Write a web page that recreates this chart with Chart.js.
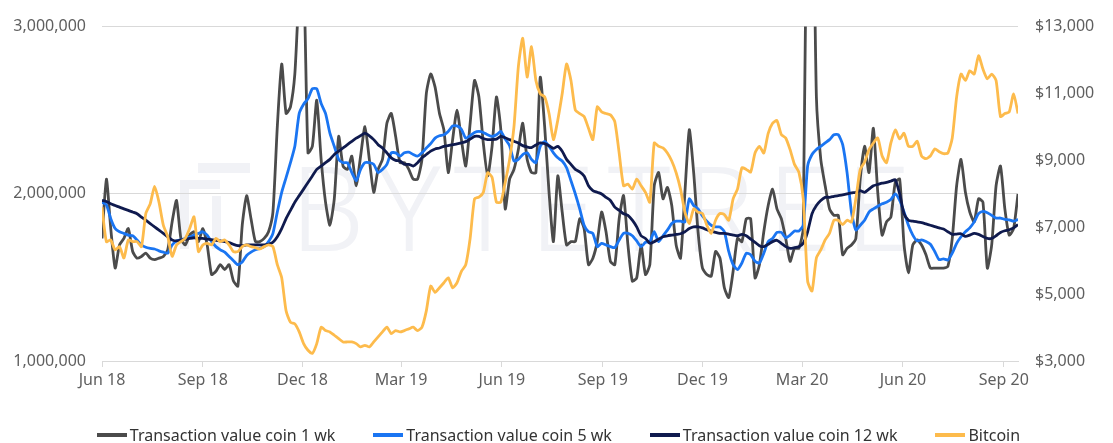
<!DOCTYPE html>
<html lang="en">
<head>
  <meta charset="UTF-8" />
  <title>Transaction value coin vs Bitcoin</title>
  <script src="https://cdn.jsdelivr.net/npm/chart.js@4"></script>
  <style>
    body {
      margin: 0;
      background: #fff;
      font-family: "Noto Sans", Arial, sans-serif;
    }
    .wrap {
      position: relative;
      width: 1113px;
      height: 443px;
    }
    #legend {
      position: absolute;
      left: 0;
      right: 0;
      top: 425px;
      height: 20px;
      display: flex;
      justify-content: center;
      gap: 38px;
      padding-left: 4px;
      font-size: 16px;
      line-height: 20px;
      color: #333;
    }
    #legend .item {
      display: flex;
      align-items: center;
      white-space: nowrap;
    }
    #legend .swatch {
      width: 30px;
      height: 4px;
      margin-right: 3px;
    }
  </style>
</head>
<body>
  <div class="wrap">
    <canvas id="chart"></canvas>
    <div id="legend"></div>
  </div>

  <script>
    // one sample every 4 days, starting Jun 2018
    const stepDays = 4;
    const tickDays = [0, 92, 183, 273, 365, 457, 548, 639, 731, 823];
    const tickLabels = ['Jun 18', 'Sep 18', 'Dec 18', 'Mar 19', 'Jun 19', 'Sep 19', 'Dec 19', 'Mar 20', 'Jun 20', 'Sep 20'];

    const coin1wk = [
      1733000, 2088000, 1792000, 1556000, 1694000, 1733000, 1792000, 1655000, 1615000, 1625000, 1645000, 1615000,
      1606000, 1615000, 1625000, 1665000, 1832000, 1960000, 1733000, 1694000, 1753000, 1773000, 1714000, 1792000,
      1694000, 1517000, 1537000, 1576000, 1547000, 1576000, 1478000, 1448000, 1812000, 1989000, 1851000, 1714000,
      1714000, 1733000, 1773000, 1891000, 2402000, 2776000, 2481000, 2520000, 2717000, 3200000, 3300000, 2245000,
      2284000, 2560000, 2206000, 1950000, 1812000, 1970000, 2343000, 2166000, 2146000, 2225000, 2048000, 2225000,
      2402000, 2206000, 2009000, 2146000, 2206000, 2422000, 2481000, 2343000, 2186000, 2186000,
      2146000, 2088000, 2088000, 2206000, 2599000, 2717000, 2638000, 2481000, 2383000, 2127000, 2324000, 2501000,
      2324000, 2166000, 2422000, 2678000, 2579000, 2304000, 2107000, 2284000, 2579000, 2383000, 1910000, 2088000,
      2146000, 2265000, 2422000, 2206000, 2127000, 2127000, 2697000, 2402000, 2009000, 1714000, 2107000,
      1891000, 1694000, 1714000, 1714000, 1851000, 1792000, 1576000, 1615000, 1714000, 1891000, 1773000, 1596000,
      1576000, 1851000, 1989000, 1694000, 1478000, 1497000, 1694000, 1517000, 1576000, 2048000, 2127000, 1970000,
      2038000, 1930000, 1694000, 1615000, 2009000, 2383000, 2127000, 1773000, 1556000, 1517000, 1507000, 1655000,
      1615000, 1438000, 1379000, 1537000, 1733000, 1714000, 1851000, 1851000, 1497000, 1576000, 1773000, 1930000,
      2028000, 1910000, 1851000, 1733000, 1596000, 1674000, 1674000, 1792000, 4200000, 4200000, 2579000, 2206000,
      2048000, 1910000, 1871000, 1871000, 1635000, 1674000, 1694000, 1733000, 2088000, 2284000, 2127000,
      2392000, 2009000, 1753000, 1832000, 1861000, 2068000, 2088000, 1694000, 1527000, 1694000, 1724000, 1694000,
      1635000, 1556000, 1556000, 1556000, 1556000, 1566000, 1733000, 2048000, 2206000, 2009000, 1891000, 1832000,
      1970000, 1950000, 1556000, 1694000, 2048000, 2166000, 1910000, 1753000, 1792000, 1999000
    ];

    const coin5wk = [
      1950000, 1934000, 1851000, 1792000, 1773000, 1763000, 1753000, 1749000, 1724000, 1694000, 1680000, 1674000,
      1670000, 1659000, 1651000, 1645000, 1694000, 1718000, 1724000, 1733000, 1741000, 1753000, 1763000, 1773000,
      1753000, 1714000, 1684000, 1665000, 1651000, 1625000, 1600000, 1576000, 1592000, 1631000, 1651000, 1665000,
      1674000, 1684000, 1714000, 1763000, 1891000, 2009000, 2097000, 2186000, 2284000, 2481000, 2536000, 2569000,
      2628000, 2628000, 2540000, 2481000, 2363000, 2284000, 2206000, 2186000, 2186000, 2127000, 2078000, 2146000,
      2186000, 2186000, 2176000, 2127000, 2146000, 2176000, 2245000, 2245000, 2225000, 2245000,
      2249000, 2235000, 2225000, 2245000, 2274000, 2300000, 2333000, 2347000, 2353000, 2373000, 2406000, 2406000,
      2386000, 2333000, 2347000, 2367000, 2373000, 2367000, 2353000, 2343000, 2353000, 2373000, 2327000, 2288000,
      2196000, 2206000, 2235000, 2245000, 2206000, 2186000, 2284000, 2314000, 2284000, 2245000, 2215000,
      2196000, 2156000, 2078000, 1999000, 1910000, 1812000, 1773000, 1763000, 1684000, 1704000, 1694000, 1684000,
      1678000, 1724000, 1763000, 1763000, 1749000, 1718000, 1684000, 1710000, 1714000, 1773000, 1714000, 1749000,
      1783000, 1822000, 1836000, 1836000, 1832000, 1970000, 1930000, 1910000, 1867000, 1836000, 1812000, 1802000,
      1802000, 1773000, 1655000, 1576000, 1547000, 1586000, 1645000, 1635000, 1596000, 1586000, 1645000, 1714000,
      1733000, 1769000, 1769000, 1737000, 1753000, 1777000, 1777000, 1812000, 2166000, 2235000, 2265000, 2284000,
      2304000, 2324000, 2353000, 2353000, 2294000, 2127000, 1891000, 1783000, 1812000, 1842000, 1891000,
      1910000, 1926000, 1940000, 1950000, 1966000, 1999000, 1960000, 1891000, 1812000, 1753000, 1718000, 1724000,
      1714000, 1698000, 1655000, 1606000, 1611000, 1604000, 1645000, 1704000, 1743000, 1773000, 1796000, 1832000,
      1881000, 1895000, 1887000, 1871000, 1855000, 1855000, 1847000, 1844000, 1836000, 1847000
    ];

    const coin12wk = [
      1960000, 1954000, 1940000, 1930000, 1920000, 1910000, 1901000, 1891000, 1881000, 1861000, 1842000, 1822000,
      1802000, 1783000, 1763000, 1743000, 1724000, 1718000, 1724000, 1728000, 1733000, 1737000, 1733000, 1733000,
      1729000, 1726000, 1722000, 1718000, 1714000, 1708000, 1698000, 1690000, 1690000, 1694000, 1694000, 1694000,
      1694000, 1694000, 1698000, 1710000, 1743000, 1792000, 1851000, 1901000, 1950000, 1989000, 2028000, 2068000,
      2107000, 2146000, 2166000, 2186000, 2206000, 2235000, 2255000, 2274000, 2294000, 2314000, 2333000, 2347000,
      2363000, 2347000, 2324000, 2294000, 2274000, 2245000, 2215000, 2200000, 2196000, 2176000,
      2176000, 2166000, 2186000, 2215000, 2235000, 2255000, 2268000, 2274000, 2284000, 2288000, 2294000, 2298000,
      2304000, 2312000, 2327000, 2343000, 2343000, 2331000, 2324000, 2324000, 2327000, 2343000, 2335000, 2324000,
      2314000, 2304000, 2288000, 2280000, 2276000, 2292000, 2304000, 2300000, 2288000, 2272000, 2284000,
      2255000, 2206000, 2176000, 2146000, 2131000, 2107000, 2048000, 2019000, 2009000, 1999000, 1979000, 1960000,
      1920000, 1901000, 1881000, 1871000, 1842000, 1802000, 1749000, 1733000, 1704000, 1714000, 1729000, 1743000,
      1749000, 1753000, 1757000, 1761000, 1773000, 1792000, 1802000, 1802000, 1796000, 1785000, 1777000, 1769000,
      1763000, 1763000, 1759000, 1753000, 1749000, 1757000, 1749000, 1729000, 1710000, 1690000, 1684000, 1698000,
      1714000, 1722000, 1704000, 1684000, 1674000, 1678000, 1684000, 1704000, 1773000, 1881000, 1930000, 1960000,
      1979000, 1979000, 1985000, 1989000, 1993000, 1999000, 2005000, 2009000, 2019000, 2009000, 2028000,
      2048000, 2056000, 2064000, 2068000, 2076000, 2084000, 1999000, 1881000, 1842000, 1836000, 1832000, 1828000,
      1820000, 1812000, 1804000, 1796000, 1789000, 1773000, 1757000, 1759000, 1761000, 1745000, 1753000, 1763000,
      1757000, 1745000, 1733000, 1733000, 1749000, 1769000, 1779000, 1785000, 1796000, 1816000
    ];

    const bitcoin = [
      7600, 6570, 6620, 6320, 6420, 6080, 6620, 6570, 6570, 6420, 7410, 7700,
      8220, 7750, 7060, 6720, 6130, 6470, 6570, 6670, 6960, 7310, 6270, 6470,
      6520, 6470, 6670, 6570, 6620, 6470, 6270, 6270, 6420, 6470, 6420, 6390,
      6350, 6420, 6470, 6420, 5880, 5490, 4500, 4160, 4110, 3870, 3520, 3320,
      3230, 3520, 4010, 3910, 3870, 3770, 3670, 3570, 3570, 3570, 3520, 3420,
      3470, 3420, 3570, 3720, 3870, 4010, 3820, 3910, 3870, 3910,
      3960, 4010, 3910, 4010, 4500, 5240, 5050, 5190, 5340, 5490, 5190, 5340,
      5680, 5880, 6670, 7850, 7900, 8040, 8630, 8490, 7750, 7750, 8340, 9030,
      10010, 11800, 12650, 11490, 12400, 11390, 10990, 10900, 10400, 9620, 10210,
      10990, 11880, 11390, 10500, 10400, 10310, 9960, 9620, 10600, 10450, 10400, 10360,
      10160, 9220, 8240, 8290, 8140, 8440, 8240, 8040, 7750, 9520, 9420, 9370,
      9220, 8980, 8630, 8140, 7450, 7110, 7550, 7450, 7410, 7060, 6820, 7210,
      7410, 7380, 7210, 7850, 8140, 8780, 8730, 8650, 9220, 9420, 9220, 9810,
      10110, 10190, 9770, 9670, 9320, 8880, 8650, 7850, 5390, 5090, 6080, 6320,
      6620, 6820, 7210, 7210, 7080, 7210, 7160, 7850, 8730, 8950, 9320,
      9520, 9670, 9130, 8930, 9520, 9910, 9640, 9810, 9420, 9420, 9570, 9130,
      9050, 9130, 9340, 9260, 9200, 9220, 9670, 10900, 11580, 11390, 11680, 11580,
      12130, 11730, 11440, 11580, 11390, 10310, 10400, 10450, 10990, 10400
    ];

    const toPoints = values => values.map((v, i) => ({ x: i * stepDays, y: v }));
    const lastDay = (bitcoin.length - 1) * stepDays;
    const tickFont = { family: '"Noto Sans", Arial, sans-serif', size: 16 };
    const tickColor = '#5f5f5f';
    const gridColor = '#d9d9d9';

    // faint BYTETREE logo + wordmark behind the lines
    const watermark = {
      id: 'watermark',
      beforeDraw(chart) {
        const ctx = chart.ctx;
        ctx.save();
        ctx.fillStyle = '#f1f2f6';
        ctx.fillRect(198, 163, 52, 10);
        ctx.fillRect(180, 180, 40, 9);
        ctx.fillRect(180, 189, 9, 60);
        ctx.fillRect(212, 196, 9, 53);
        ctx.font = '300 118px "Noto Sans", Arial, sans-serif';
        ctx.letterSpacing = '13px';
        ctx.textBaseline = 'alphabetic';
        ctx.fillText('BYTETREE', 290, 251);
        ctx.restore();
      }
    };

    const datasets = [
      { label: 'Transaction value coin 1 wk', data: toPoints(coin1wk), borderColor: '#4b4b4b', yAxisID: 'y', order: 3 },
      { label: 'Transaction value coin 5 wk', data: toPoints(coin5wk), borderColor: '#1a75f2', yAxisID: 'y', order: 2 },
      { label: 'Transaction value coin 12 wk', data: toPoints(coin12wk), borderColor: '#0f1a4e', yAxisID: 'y', order: 1 },
      { label: 'Bitcoin', data: toPoints(bitcoin), borderColor: '#fdbb4c', yAxisID: 'y1', order: 0 }
    ];
    datasets.forEach(ds => {
      ds.borderWidth = 2.8;
      ds.pointRadius = 0;
      ds.tension = 0.2;
      ds.fill = false;
    });

    const chart = new Chart(document.getElementById('chart'), {
      type: 'line',
      data: { datasets },
      options: {
        responsive: true,
        maintainAspectRatio: false,
        animation: false,
        devicePixelRatio: 1,
        layout: { padding: { top: 22, bottom: 42, left: 0, right: 0 } },
        plugins: {
          legend: { display: false },
          tooltip: { enabled: false }
        },
        scales: {
          x: {
            type: 'linear',
            min: 0,
            max: lastDay,
            afterBuildTicks: scale => { scale.ticks = tickDays.map(v => ({ value: v })); },
            afterFit: scale => { scale.height = 40; },
            grid: { drawOnChartArea: false, drawTicks: true, tickLength: 6, color: gridColor },
            border: { display: true, color: gridColor },
            ticks: {
              autoSkip: false,
              maxRotation: 0,
              padding: 4,
              color: tickColor,
              font: tickFont,
              callback: value => tickLabels[tickDays.indexOf(value)] || ''
            }
          },
          y: {
            position: 'left',
            min: 1000000,
            max: 3000000,
            afterFit: scale => { scale.width = 102; },
            grid: { color: gridColor, drawTicks: false },
            border: { display: false },
            ticks: {
              stepSize: 1000000,
              padding: 16,
              color: tickColor,
              font: tickFont,
              callback: value => value.toLocaleString('en-US')
            }
          },
          y1: {
            position: 'right',
            min: 3000,
            max: 13000,
            afterFit: scale => { scale.width = 95; },
            grid: { display: false, drawTicks: false },
            border: { display: false },
            ticks: {
              stepSize: 2000,
              padding: 17,
              color: tickColor,
              font: tickFont,
              callback: value => '$' + value.toLocaleString('en-US')
            }
          }
        }
      },
      plugins: [watermark]
    });

    // html legend built from the datasets
    const legend = document.getElementById('legend');
    chart.data.datasets.forEach(ds => {
      const item = document.createElement('div');
      item.className = 'item';
      item.innerHTML = `<span class="swatch" style="background:${ds.borderColor}"></span><span>${ds.label}</span>`;
      legend.appendChild(item);
    });
  </script>
</body>
</html>
